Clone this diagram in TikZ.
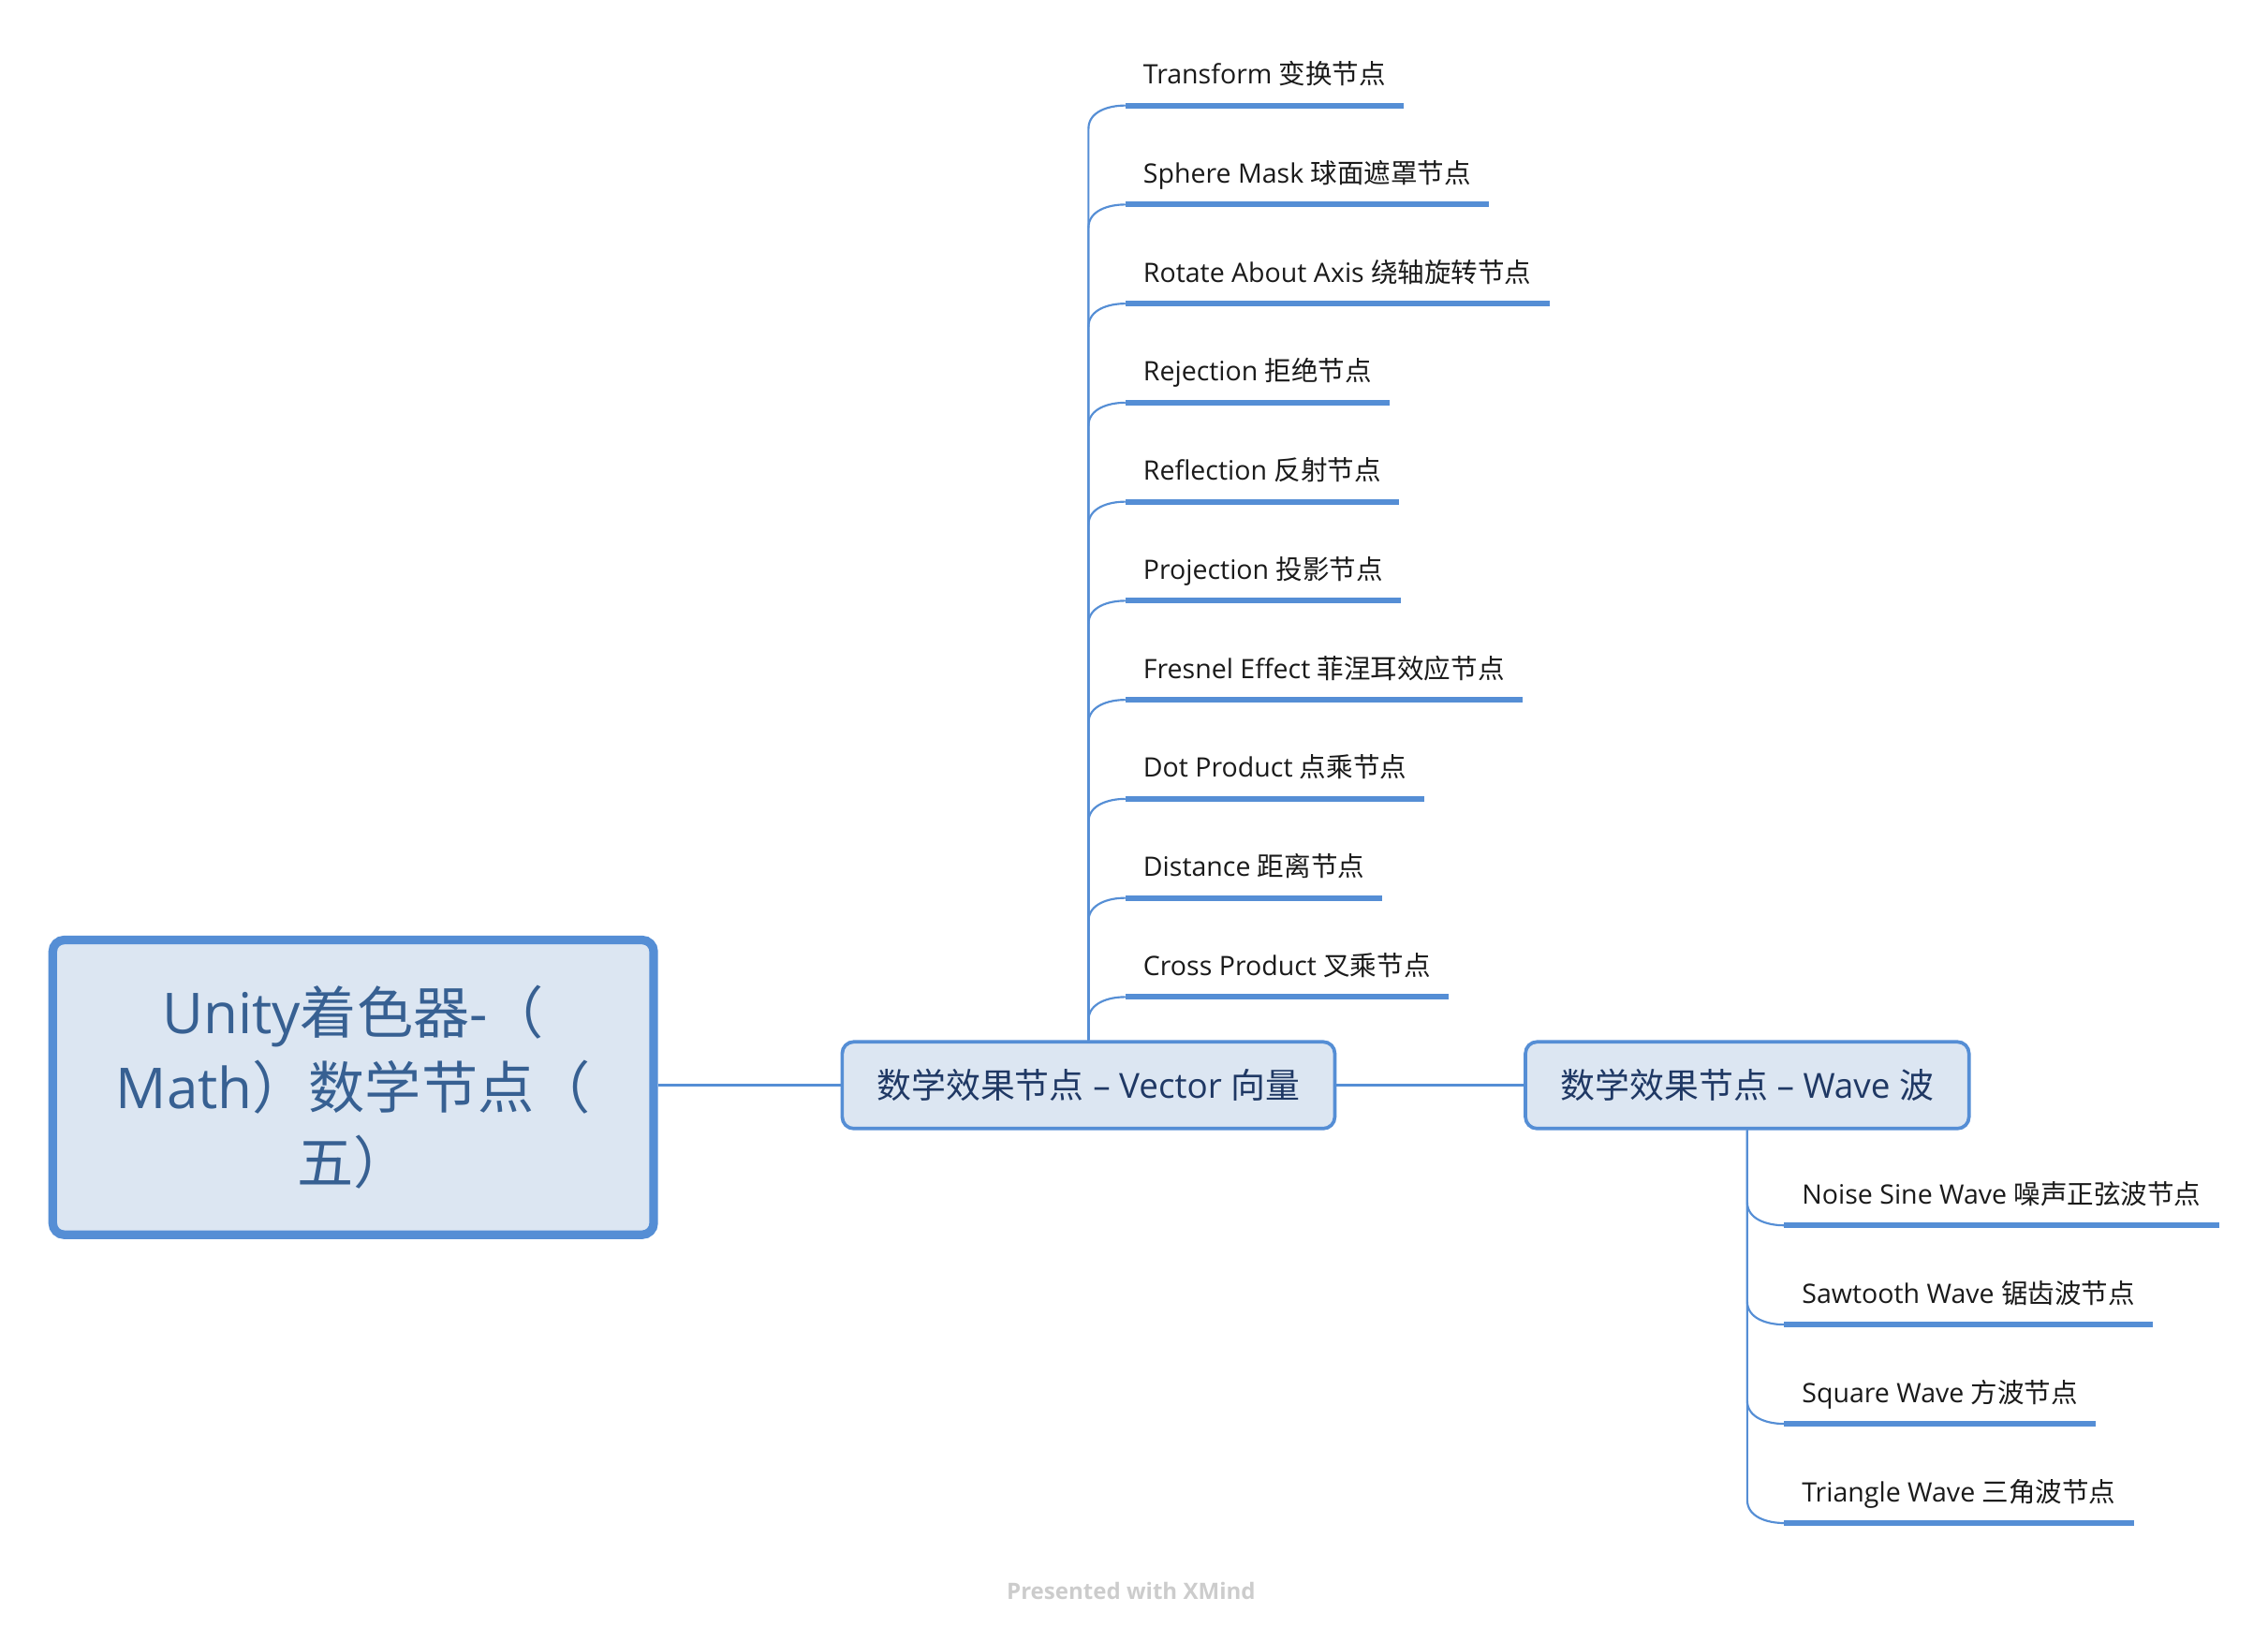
\documentclass[tikz,border=0pt]{standalone}
\usepackage{fontspec}
\setmainfont{Open Sans}
\newfontfamily\cjk{Noto Sans CJK SC}
\usetikzlibrary{calc}
\definecolor{bord}{HTML}{558ED5}
\definecolor{fillc}{HTML}{DCE6F2}
\definecolor{roottxt}{HTML}{376092}
\definecolor{subtxt}{HTML}{1F3864}
\definecolor{leaftxt}{HTML}{1A1A1A}
\definecolor{xmgray}{HTML}{CCCCCC}
\begin{document}
\begin{tikzpicture}[x=0.5pt,y=-0.5pt,
  rootbox/.style={draw=bord, line width=3pt, fill=fillc, rounded corners=4pt,
    minimum width=208pt, minimum height=102pt, align=center, text=roottxt,
    font=\fontsize{19.5}{26}\selectfont, inner sep=0pt},
  subbox/.style={draw=bord, line width=1.2pt, fill=fillc, rounded corners=4pt,
    minimum height=30pt, text=subtxt, font=\fontsize{11.95}{14}\selectfont, inner sep=0pt},
  leaf/.style={anchor=south west, inner xsep=6pt, inner ysep=7.25pt, text depth=0pt,
    text=leaftxt, font=\fontsize{9.25}{11}\selectfont},
  conn/.style={draw=bord, line width=0.7pt},
  uline/.style={draw=bord, line width=2pt},
]
\useasboundingbox (0,0) rectangle (1570,1135.7);

\node[rootbox] (root) at (244.5,752.5) {Unity{\cjk 着色器}-{\cjk （}\\Math{\cjk ）数学节点（}\\{\cjk 五）}};
\node[subbox, minimum width=170.5pt] (vec) at (753.5,751) {{\cjk 数学效果节点} – Vector {\cjk 向量}};
\node[subbox, minimum width=153.5pt] (wave) at (1209.5,751) {{\cjk 数学效果节点} – Wave {\cjk 波}};

\draw[conn] (root.east |- vec.west) -- (vec.west);
\draw[conn] (vec.east) -- (wave.west);

\foreach \txt [count=\i from 0] in {
  {Transform {\cjk 变换节点}},
  {Sphere Mask {\cjk 球面遮罩节点}},
  {Rotate About Axis {\cjk 绕轴旋转节点}},
  {Rejection {\cjk 拒绝节点}},
  {Reflection {\cjk 反射节点}},
  {Projection {\cjk 投影节点}},
  {Fresnel Effect {\cjk 菲涅耳效应节点}},
  {Dot Product {\cjk 点乘节点}},
  {Distance {\cjk 距离节点}},
  {Cross Product {\cjk 叉乘节点}}}{
  \node[leaf] (v\i) at (779,73+68.55*\i) {\txt};
  \draw[uline] (v\i.south west) -- (v\i.south east);
  \draw[conn] (vec.north) -- ($(vec.north |- v\i.south west)+(0,-8pt)$) to[out=90,in=180] (v\i.south west);
}

\foreach \txt [count=\i from 0] in {
  {Noise Sine Wave {\cjk 噪声正弦波节点}},
  {Sawtooth Wave {\cjk 锯齿波节点}},
  {Square Wave {\cjk 方波节点}},
  {Triangle Wave {\cjk 三角波节点}}}{
  \node[leaf] (w\i) at (1235,848+68.67*\i) {\txt};
  \draw[uline] (w\i.south west) -- (w\i.south east);
  \draw[conn] (wave.south) -- ($(wave.south |- w\i.south west)+(0,8pt)$) to[out=-90,in=180] (w\i.south west);
}

\node[font=\bfseries\fontsize{7.8}{10}\selectfont, text=xmgray] (xm) at (783,1101) {Presented with XMind};
\end{tikzpicture}
\end{document}
